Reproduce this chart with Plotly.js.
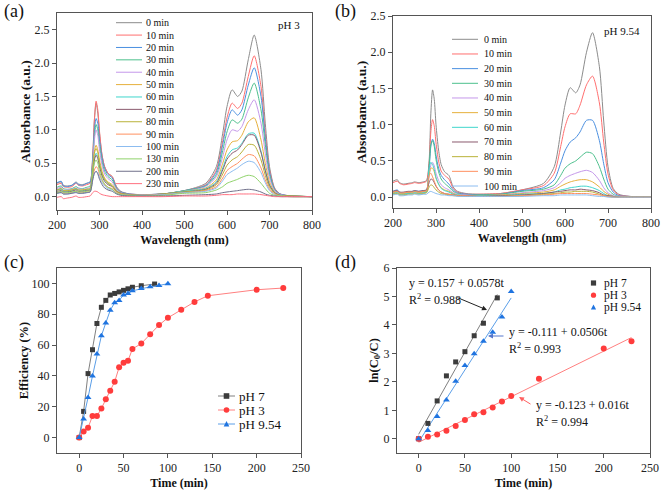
<!DOCTYPE html>
<html><head><meta charset="utf-8">
<script src="https://cdn.plot.ly/plotly-3.0.1.min.js"></script>
<style>html,body{margin:0;padding:0;background:#fff}</style>
</head><body><div id="chart" style="width:661px;height:491px"></div>
<script>
// ---------- DATA ----------
const wavelength = [200,210,215,225,235,245,250,260,270,278,284,288,292,296,300,306,312,320,330,340,350,370,400,450,500,550,575,590,600,612,625,635,650,664,680,690,700,712,725,750,800];

const labelsA = ['0 min','10 min','20 min','30 min','40 min','50 min','60 min','70 min','80 min','90 min','100 min','130 min','200 min','230 min'];
const a_0   = [0.20,0.22,0.17,0.16,0.17,0.22,0.19,0.18,0.20,0.22, 0.60,1.15,1.40,1.25,0.95,0.62,0.45,0.35,0.30,0.15,0.08, 0.04,0.03,0.04,0.09,0.20,0.45,0.95,1.35,1.60,1.50,1.58,2.05,2.42,1.90,1.10,0.45,0.13,0.04,0.01,0.00];
const a_10  = [0.18,0.20,0.15,0.14,0.15,0.20,0.17,0.16,0.18,0.20, 0.60,1.15,1.43,1.30,0.98,0.62,0.45,0.35,0.30,0.14,0.07, 0.04,0.03,0.04,0.09,0.18,0.40,0.84,1.18,1.40,1.32,1.40,1.80,2.11,1.65,0.95,0.40,0.12,0.04,0.01,0.00];
const a_20  = [0.21,0.23,0.16,0.15,0.17,0.21,0.18,0.17,0.20,0.22, 0.55,1.00,1.17,1.10,0.85,0.58,0.42,0.33,0.28,0.13,0.07, 0.04,0.03,0.04,0.09,0.17,0.37,0.78,1.10,1.30,1.22,1.30,1.67,1.93,1.50,0.88,0.37,0.11,0.04,0.01,0.00];
const a_30  = [0.14,0.16,0.12,0.11,0.12,0.15,0.13,0.12,0.14,0.16, 0.50,0.90,1.08,1.00,0.78,0.52,0.38,0.30,0.25,0.12,0.06, 0.03,0.03,0.04,0.09,0.16,0.33,0.69,0.97,1.15,1.10,1.16,1.48,1.70,1.30,0.78,0.33,0.10,0.03,0.01,0.00];
const a_40  = [0.12,0.14,0.10,0.10,0.11,0.13,0.12,0.11,0.12,0.14, 0.45,0.85,1.00,0.92,0.70,0.47,0.34,0.27,0.22,0.11,0.06, 0.03,0.03,0.04,0.08,0.15,0.30,0.60,0.85,1.00,0.98,1.05,1.30,1.45,1.10,0.65,0.28,0.09,0.03,0.01,0.00];
const a_50  = [0.10,0.12,0.09,0.09,0.10,0.12,0.10,0.10,0.11,0.12, 0.38,0.68,0.77,0.70,0.55,0.38,0.28,0.22,0.18,0.09,0.05, 0.03,0.02,0.04,0.08,0.13,0.25,0.50,0.70,0.82,0.84,0.92,1.12,1.18,0.85,0.50,0.22,0.07,0.02,0.01,0.00];
const a_60  = [0.10,0.11,0.08,0.08,0.09,0.11,0.10,0.09,0.10,0.11, 0.35,0.58,0.65,0.60,0.48,0.33,0.25,0.20,0.16,0.08,0.05, 0.03,0.02,0.04,0.08,0.12,0.22,0.43,0.60,0.70,0.73,0.80,0.94,0.95,0.68,0.40,0.18,0.06,0.02,0.01,0.00];
const a_70  = [0.08,0.09,0.07,0.07,0.08,0.10,0.08,0.08,0.09,0.10, 0.33,0.55,0.62,0.57,0.45,0.31,0.23,0.18,0.15,0.08,0.05, 0.03,0.02,0.04,0.07,0.11,0.20,0.40,0.56,0.65,0.70,0.78,0.92,0.92,0.66,0.39,0.17,0.06,0.02,0.01,0.00];
const a_80  = [0.10,0.12,0.09,0.09,0.10,0.12,0.10,0.10,0.11,0.12, 0.40,0.65,0.72,0.66,0.50,0.35,0.26,0.20,0.16,0.08,0.05, 0.03,0.02,0.04,0.07,0.10,0.18,0.34,0.47,0.55,0.60,0.67,0.78,0.77,0.55,0.32,0.14,0.05,0.02,0.01,0.00];
const a_90  = [0.06,0.07,0.05,0.05,0.06,0.08,0.06,0.06,0.07,0.08, 0.28,0.40,0.45,0.42,0.33,0.24,0.18,0.14,0.12,0.06,0.04, 0.02,0.02,0.03,0.06,0.09,0.15,0.28,0.39,0.45,0.50,0.56,0.63,0.61,0.43,0.25,0.11,0.04,0.01,0.00,0.00];
const a_100 = [0.05,0.06,0.04,0.04,0.05,0.07,0.05,0.05,0.06,0.07, 0.25,0.35,0.38,0.36,0.29,0.21,0.16,0.12,0.10,0.05,0.03, 0.02,0.02,0.03,0.06,0.08,0.13,0.24,0.33,0.38,0.43,0.48,0.53,0.51,0.36,0.21,0.09,0.03,0.01,0.00,0.00];
const a_130 = [0.06,0.08,0.06,0.06,0.07,0.08,0.07,0.07,0.08,0.09, 0.35,0.50,0.55,0.50,0.38,0.26,0.19,0.14,0.11,0.05,0.03, 0.02,0.01,0.02,0.05,0.06,0.10,0.15,0.20,0.23,0.26,0.29,0.32,0.30,0.20,0.12,0.05,0.02,0.01,0.00,0.00];
const a_200 = [0.05,0.06,0.04,0.04,0.05,0.06,0.05,0.05,0.06,0.07, 0.25,0.35,0.38,0.34,0.26,0.18,0.13,0.10,0.08,0.04,0.02, 0.01,0.01,0.01,0.02,0.03,0.04,0.06,0.07,0.08,0.09,0.10,0.11,0.10,0.07,0.04,0.02,0.01,0.00,0.00,0.00];
const a_230 = [-0.01,0.00,-0.03,-0.02,-0.01,0.01,-0.01,-0.01,0.00,0.01, 0.06,0.08,0.08,0.07,0.05,0.03,0.02,0.01,0.00,0.00,0.00, 0.00,0.00,0.00,0.01,0.01,0.02,0.03,0.03,0.03,0.04,0.04,0.04,0.04,0.03,0.02,0.01,0.00,0.00,0.00,0.00];

const labelsB = ['0 min','10 min','20 min','30 min','40 min','50 min','60 min','70 min','80 min','90 min','100 min'];
const b_0   = [0.22,0.24,0.20,0.18,0.19,0.20,0.21,0.20,0.21,0.23, 0.50,1.15,1.48,1.35,1.00,0.65,0.45,0.35,0.30,0.14,0.08, 0.05,0.04,0.05,0.10,0.19,0.42,0.90,1.27,1.51,1.44,1.55,2.00,2.27,1.80,1.05,0.42,0.12,0.04,0.01,0.00];
const b_10  = [0.20,0.22,0.19,0.17,0.18,0.19,0.20,0.19,0.20,0.22, 0.45,0.90,1.07,0.98,0.75,0.50,0.36,0.30,0.25,0.12,0.07, 0.04,0.04,0.05,0.10,0.16,0.33,0.70,0.97,1.15,1.15,1.27,1.55,1.67,1.30,0.76,0.32,0.10,0.03,0.01,0.00];
const b_20  = [0.08,0.10,0.07,0.06,0.07,0.08,0.09,0.08,0.09,0.10, 0.40,0.70,0.80,0.74,0.58,0.40,0.30,0.24,0.18,0.10,0.06, 0.04,0.03,0.04,0.09,0.13,0.24,0.47,0.64,0.76,0.82,0.90,1.06,1.06,0.78,0.46,0.20,0.07,0.02,0.01,0.00];
const b_30  = [0.07,0.08,0.06,0.05,0.06,0.07,0.08,0.07,0.08,0.09, 0.42,0.72,0.78,0.70,0.52,0.35,0.25,0.19,0.14,0.08,0.05, 0.03,0.03,0.04,0.08,0.11,0.17,0.30,0.40,0.46,0.50,0.55,0.62,0.60,0.42,0.25,0.11,0.04,0.01,0.00,0.00];
const b_40  = [0.05,0.06,0.04,0.04,0.05,0.05,0.06,0.05,0.06,0.07, 0.30,0.44,0.48,0.43,0.33,0.23,0.17,0.13,0.10,0.06,0.04, 0.03,0.02,0.03,0.06,0.09,0.13,0.20,0.26,0.30,0.33,0.35,0.37,0.34,0.23,0.13,0.06,0.02,0.01,0.00,0.00];
const b_50  = [0.06,0.07,0.05,0.05,0.06,0.06,0.07,0.06,0.07,0.08, 0.30,0.40,0.40,0.35,0.26,0.18,0.13,0.10,0.08,0.05,0.03, 0.02,0.02,0.03,0.05,0.07,0.10,0.15,0.18,0.21,0.23,0.24,0.24,0.21,0.14,0.08,0.04,0.01,0.00,0.00,0.00];
const b_60  = [0.05,0.06,0.04,0.04,0.05,0.05,0.06,0.05,0.06,0.07, 0.40,0.48,0.45,0.38,0.27,0.18,0.12,0.09,0.07,0.04,0.03, 0.02,0.02,0.02,0.04,0.05,0.07,0.10,0.11,0.13,0.14,0.15,0.15,0.13,0.09,0.05,0.02,0.01,0.00,0.00,0.00];
const b_70  = [0.08,0.09,0.07,0.07,0.08,0.08,0.09,0.08,0.09,0.10, 0.20,0.25,0.24,0.20,0.15,0.10,0.07,0.05,0.04,0.03,0.02, 0.02,0.01,0.02,0.03,0.05,0.07,0.08,0.09,0.10,0.10,0.11,0.10,0.09,0.06,0.03,0.02,0.01,0.00,0.00,0.00];
const b_80  = [0.04,0.05,0.03,0.03,0.04,0.04,0.05,0.04,0.05,0.06, 0.14,0.17,0.16,0.13,0.10,0.07,0.05,0.04,0.03,0.02,0.02, 0.01,0.01,0.01,0.02,0.04,0.05,0.06,0.07,0.07,0.08,0.08,0.08,0.07,0.04,0.02,0.01,0.00,0.00,0.00,0.00];
const b_90  = [0.07,0.08,0.06,0.06,0.07,0.07,0.08,0.07,0.08,0.09, 0.30,0.33,0.28,0.22,0.16,0.10,0.07,0.05,0.04,0.03,0.02, 0.02,0.01,0.01,0.02,0.03,0.04,0.05,0.05,0.05,0.05,0.05,0.05,0.04,0.03,0.02,0.01,0.00,0.00,0.00,0.00];
const b_100 = [0.03,0.04,0.02,0.02,0.03,0.03,0.04,0.03,0.04,0.04, 0.07,0.08,0.07,0.06,0.05,0.04,0.03,0.03,0.02,0.02,0.01, 0.01,0.01,0.01,0.01,0.02,0.02,0.03,0.03,0.03,0.03,0.03,0.03,0.02,0.01,0.01,0.00,0.00,0.00,0.00,0.00];

// (c) efficiency
const phLabels = ['pH 7','pH 3','pH 9.54'];
const t_pH7 = [0,5,10,15,20,25,30,35,40,45,50,55,60,70,85];
const eff_pH7 = [0,17,41.5,57,74,84.5,89,92.5,93.5,94.5,95.5,96.5,97.5,98.5,99.6];
const t_pH3 = [0,5,10,15,20,25,30,35,40,45,50,55,60,70,80,90,100,115,130,145,200,230];
const eff_pH3 = [0,3.9,6.4,14,14,18.8,24.8,30.4,36.2,45.6,48.6,49.8,57.5,61,67,73,77.7,83,88,92,95.9,97];
const t_pH954 = [0,5,10,15,20,25,30,35,40,45,50,55,60,70,80,90,100];
const eff_pH954 = [0,12,26,40,54.2,66,74.4,82.6,87.5,89,92.5,93.5,95.2,96.7,97.8,98.7,99.8];

// (d) kinetics
const tk_pH7 = [0,10,20,30,40,50,60,70,85];
const ln_pH7 = [0,0.54,1.33,2.21,2.70,3.06,3.62,4.06,4.95];
const tk_pH3 = [0,10,20,30,40,50,60,70,80,90,100,130,200,230];
const ln_pH3 = [0,0.07,0.15,0.28,0.45,0.66,0.86,0.93,1.10,1.31,1.50,2.11,3.17,3.43];
const tk_pH954 = [0,10,20,30,40,50,60,70,80,90,100];
const ln_pH954 = [0,0.29,0.78,1.36,2.02,2.57,2.99,3.43,3.74,4.28,5.17];
const fit_pH7_t = [0,85],   fit_pH7_y = [0.157,5.07];
const fit_pH3_t = [0,230],  fit_pH3_y = [-0.123,3.557];
const fit_pH954_t = [0,100], fit_pH954_y = [-0.111,4.949];
const fitText = ['y = 0.157 + 0.0578t','y = -0.111 + 0.0506t','y = -0.123 + 0.016t'];
const r2Text = ['R<sup>2</sup> = 0.988','R<sup>2</sup> = 0.993','R<sup>2</sup> = 0.994'];

// ---------- STYLE ----------
const colorsSpec = ['#8c8c8c','#ff6f6f','#4a8fe0','#4cc08c','#c497ea','#e6b03c','#3fd6cc','#8a5a6e','#b9b23a','#ff9060','#8cbcf0','#8fd36a','#70708a','#ff6f7f'];
const W = 661, H = 491;
const px = x => x / W, py = y => 1 - y / H;
const FONT = 'Liberation Serif';

const seriesA = [a_0,a_10,a_20,a_30,a_40,a_50,a_60,a_70,a_80,a_90,a_100,a_130,a_200,a_230];
const seriesB = [b_0,b_10,b_20,b_30,b_40,b_50,b_60,b_70,b_80,b_90,b_100];

const traces = [];
seriesA.forEach((s,i) => traces.push({x: wavelength, y: s, xaxis:'x', yaxis:'y', type:'scatter', mode:'lines',
  line:{color: colorsSpec[i], width:1, shape:'spline', smoothing:0.7}, name: labelsA[i], showlegend:false, hoverinfo:'skip'}));
seriesB.forEach((s,i) => traces.push({x: wavelength, y: s, xaxis:'x2', yaxis:'y2', type:'scatter', mode:'lines',
  line:{color: colorsSpec[i], width:1, shape:'spline', smoothing:0.7}, name: labelsB[i], showlegend:false, hoverinfo:'skip'}));

const effColors = {line:['#808080','#ff8080','#5a9ee8'], marker:['#3c3c3c','#ff3c3c','#1f74e0']};
const symbols = ['square','circle','triangle-up'];
const msize = [5,6,6];
[[t_pH7,eff_pH7],[t_pH3,eff_pH3],[t_pH954,eff_pH954]].forEach((d,i) => traces.push({
  x:d[0], y:d[1], xaxis:'x3', yaxis:'y3', type:'scatter', mode:'lines+markers', name: phLabels[i], showlegend:false,
  line:{color: effColors.line[i], width:1}, marker:{symbol: symbols[i], size:msize[i], color: effColors.marker[i]}}));

[[fit_pH7_t,fit_pH7_y],[fit_pH3_t,fit_pH3_y],[fit_pH954_t,fit_pH954_y]].forEach((d,i) => traces.push({
  x:d[0], y:d[1], xaxis:'x4', yaxis:'y4', type:'scatter', mode:'lines', showlegend:false,
  line:{color: effColors.line[i], width:1}}));
[[tk_pH7,ln_pH7],[tk_pH3,ln_pH3],[tk_pH954,ln_pH954]].forEach((d,i) => traces.push({
  x:d[0], y:d[1], xaxis:'x4', yaxis:'y4', type:'scatter', mode:'markers', name: phLabels[i], showlegend:false,
  marker:{symbol: symbols[i], size:msize[i], color: effColors.marker[i]}}));

// ---------- AXES ----------
function ax(domain, range, dtick, title, standoff, tsize, extra) {
  return Object.assign({domain, range, dtick, showline:true, linecolor:'#555', linewidth:1, mirror:true,
    ticks:'outside', ticklen:4, tickcolor:'#555', showgrid:false, zeroline:false,
    tickfont:{family:FONT, size:12, color:'#222'},
    title:{text:'<b>'+title+'</b>', font:{family:FONT, size:tsize, color:'#111'}, standoff}}, extra||{});
}
const layout = {
  width:W, height:H, margin:{l:0,r:0,t:0,b:0}, paper_bgcolor:'#fff', plot_bgcolor:'#fff', showlegend:false,
  font:{family:FONT},
  xaxis: ax([px(57),px(312)],[200,800],100,'Wavelength (nm)',4,12,{anchor:'y'}),
  yaxis: ax([py(210),py(13)],[-0.2,2.75],0.5,'Absorbance (a.u.)',0,13.5,{anchor:'x', tickformat:'.1f'}),
  xaxis2: ax([px(393),px(651)],[200,800],100,'Wavelength (nm)',4,12,{anchor:'y2'}),
  yaxis2: ax([py(208),py(16)],[-0.15,2.5],0.5,'Absorbance (a.u.)',0,13.5,{anchor:'x2', tickformat:'.1f'}),
  xaxis3: ax([px(57),px(301)],[-25,250],50,'Time (min)',4,12,{anchor:'y3'}),
  yaxis3: ax([py(453),py(268)],[-10,110],20,'Efficiency (%)',0,12.5,{anchor:'x3'}),
  xaxis4: ax([px(397),px(650)],[-23.4,250],50,'Time (min)',4,12,{anchor:'y4'}),
  yaxis4: ax([py(453),py(268)],[-0.5,6],1,'ln(C<sub>0</sub>/C)',2,12.5,{anchor:'x4'}),
  shapes: [], annotations: []
};

const ann = (x,y,text,size,opts) => Object.assign({xref:'paper', yref:'paper', x:px(x), y:py(y), text, showarrow:false,
  xanchor:'left', yanchor:'middle', font:{family:FONT, size, color:'#111'}}, opts||{});

// panel labels
[['(a)',2,11],['(b)',333,11],['(c)',2,262],['(d)',333,262]].forEach(p => layout.annotations.push(ann(p[1],p[2],p[0],18)));
layout.annotations.push(ann(302,25,'pH 3',11,{xanchor:'right'}));
layout.annotations.push(ann(642,31,'pH 9.54',11,{xanchor:'right'}));

// legend (a)
labelsA.forEach((l,i) => {
  const y = 22.7 + i*12.38;
  layout.shapes.push({type:'line', xref:'paper', yref:'paper', x0:px(116), x1:px(142), y0:py(y), y1:py(y), line:{color:colorsSpec[i], width:1}});
  layout.annotations.push(ann(143.5, y, l, 10));
});
// legend (b)
labelsB.forEach((l,i) => {
  const y = 39.3 + i*14.67;
  layout.shapes.push({type:'line', xref:'paper', yref:'paper', x0:px(452), x1:px(478), y0:py(y), y1:py(y), line:{color:colorsSpec[i], width:1}});
  layout.annotations.push(ann(481.5, y, l, 10));
});

function markerShape(sym, cx, cy, r, color) {
  if (sym === 'square') return {type:'rect', xref:'paper', yref:'paper', x0:px(cx-r), x1:px(cx+r), y0:py(cy+r), y1:py(cy-r), fillcolor:color, line:{width:0}};
  if (sym === 'circle') return {type:'circle', xref:'paper', yref:'paper', x0:px(cx-r), x1:px(cx+r), y0:py(cy+r), y1:py(cy-r), fillcolor:color, line:{width:0}};
  const p = `M ${px(cx-r)} ${py(cy+r*0.85)} L ${px(cx+r)} ${py(cy+r*0.85)} L ${px(cx)} ${py(cy-r*1.1)} Z`;
  return {type:'path', xref:'paper', yref:'paper', path:p, fillcolor:color, line:{width:0}};
}
// legend (c)
phLabels.forEach((l,i) => {
  const y = 396 + i*14;
  layout.shapes.push({type:'line', xref:'paper', yref:'paper', x0:px(218), x1:px(235), y0:py(y), y1:py(y), line:{color:effColors.line[i], width:1}});
  layout.shapes.push(markerShape(symbols[i], 226.5, y, 2.8, effColors.marker[i]));
  layout.annotations.push(ann(237, y, l, 13));
});
// legend (d)
phLabels.forEach((l,i) => {
  const y = 283 + i*12.2;
  layout.shapes.push(markerShape(symbols[i], 593.5, y, 2.6, effColors.marker[i]));
  layout.annotations.push(ann(601.5, y, l, 11.5));
});
// fit equations (d)
const eqPos = [[407,283],[507,332],[534,405]];
eqPos.forEach((p,i) => {
  layout.annotations.push(ann(p[0], p[1], fitText[i], 12));
  layout.annotations.push(ann(p[0], p[1]+16, r2Text[i], 12));
});
// arrows (d)
const arrow = (hx,hy,tx,ty,color) => ({xref:'paper', yref:'paper', x:px(hx), y:py(hy), ax:tx-hx, ay:ty-hy, text:'', showarrow:true,
  arrowhead:2, arrowsize:1, arrowwidth:1, arrowcolor:color});
layout.annotations.push(arrow(487,310,456,297,'#222'));
layout.annotations.push(arrow(488,336,505,336,'#5577cc'));
layout.annotations.push(arrow(519,397,532,405,'#ff6060'));

Plotly.newPlot('chart', traces, layout, {staticPlot:true, displayModeBar:false});
</script></body></html>
